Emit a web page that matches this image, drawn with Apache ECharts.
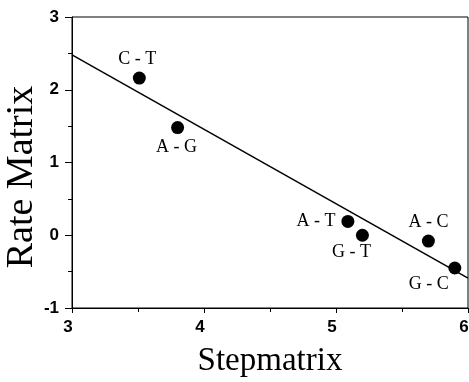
<!DOCTYPE html>
<html>
<head>
<meta charset="utf-8">
<script src="https://cdn.jsdelivr.net/npm/echarts@6/dist/echarts.min.js"></script>
<style>
  html, body { margin: 0; padding: 0; background: #fff; }
  #chart { width: 469px; height: 382px; }
</style>
</head>
<body>
<div id="chart"></div>
<script>
// point data
var pairNames = ['C - T', 'A - G', 'A - T', 'G - T', 'A - C', 'G - C'];
var stepVals  = [3.51, 3.80, 5.09, 5.20, 5.70, 5.90];
var rateVals  = [2.16, 1.48, 0.19, 0.00, -0.08, -0.45];

// fitted line end points
var fitX = [3, 6];
var fitY = [2.48, -0.59];

// where each label sits relative to its dot
var labelPlace = {
  'C - T': { position: 'top', distance: 3, offset: [-2, 0] },
  'A - G': { position: 'bottom', distance: 4, offset: [-1, 0] },
  'A - T': { position: 'left', distance: 6, offset: [0, 0] },
  'G - T': { position: 'bottom', distance: 2, offset: [-11, 0] },
  'A - C': { position: 'top', distance: 3, offset: [0, 0] },
  'G - C': { position: 'bottom', distance: 1, offset: [-26, 0] }
};

var pts = pairNames.map(function (n, i) {
  var p = labelPlace[n];
  return {
    name: n,
    value: [stepVals[i], rateVals[i]],
    label: { position: p.position, distance: p.distance, offset: p.offset }
  };
});

var chart = echarts.init(document.getElementById('chart'));

var option = {
  animation: false,
  grid: {
    left: 72, right: 1, top: 17, bottom: 74,
    containLabel: false, outerBoundsMode: 'none',
    show: true, borderColor: '#000', borderWidth: 1
  },
  // y title sits a bit below the axis middle in the original, so place it by hand
  graphic: [{
    type: 'text',
    x: 22, y: 177,
    rotation: Math.PI / 2,
    style: {
      text: 'Rate Matrix',
      font: '38px "Liberation Serif"',
      fill: '#000',
      textAlign: 'center',
      textVerticalAlign: 'middle'
    }
  }],
  xAxis: {
    type: 'value', min: 3, max: 6, interval: 1,
    name: 'Stepmatrix', nameLocation: 'middle', nameGap: 37,
    nameTextStyle: { fontFamily: 'Liberation Serif', fontSize: 33, color: '#000' },
    axisLine: { onZero: false, lineStyle: { color: '#000', width: 1 } },
    axisTick: { length: 5, lineStyle: { color: '#000' } },
    minorTick: { show: true, splitNumber: 2, length: 4, lineStyle: { color: '#000' } },
    splitLine: { show: false },
    axisLabel: {
      color: '#000', fontFamily: 'Liberation Sans', fontWeight: 'bold', fontSize: 17, margin: 11,
      padding: [0, 8, 0, 0]
    }
  },
  yAxis: {
    type: 'value', min: -1, max: 3, interval: 1,
    axisLine: { onZero: false, lineStyle: { color: '#000', width: 1 } },
    axisTick: { length: 7, lineStyle: { color: '#000' } },
    minorTick: { show: true, splitNumber: 2, length: 4, lineStyle: { color: '#000' } },
    splitLine: { show: false },
    axisLabel: { color: '#000', fontFamily: 'Liberation Sans', fontWeight: 'bold', fontSize: 17, margin: 13 }
  },
  series: [
    {
      type: 'line',
      data: fitX.map(function (x, i) { return [x, fitY[i]]; }),
      showSymbol: false,
      lineStyle: { color: '#000', width: 1.5 },
      silent: true
    },
    {
      type: 'scatter',
      data: pts,
      symbolSize: 13,
      itemStyle: { color: '#000', opacity: 1 },
      label: {
        show: true,
        formatter: '{b}',
        color: '#000',
        fontFamily: 'Liberation Serif',
        fontSize: 18
      }
    }
  ]
};

chart.setOption(option);
</script>
</body>
</html>
